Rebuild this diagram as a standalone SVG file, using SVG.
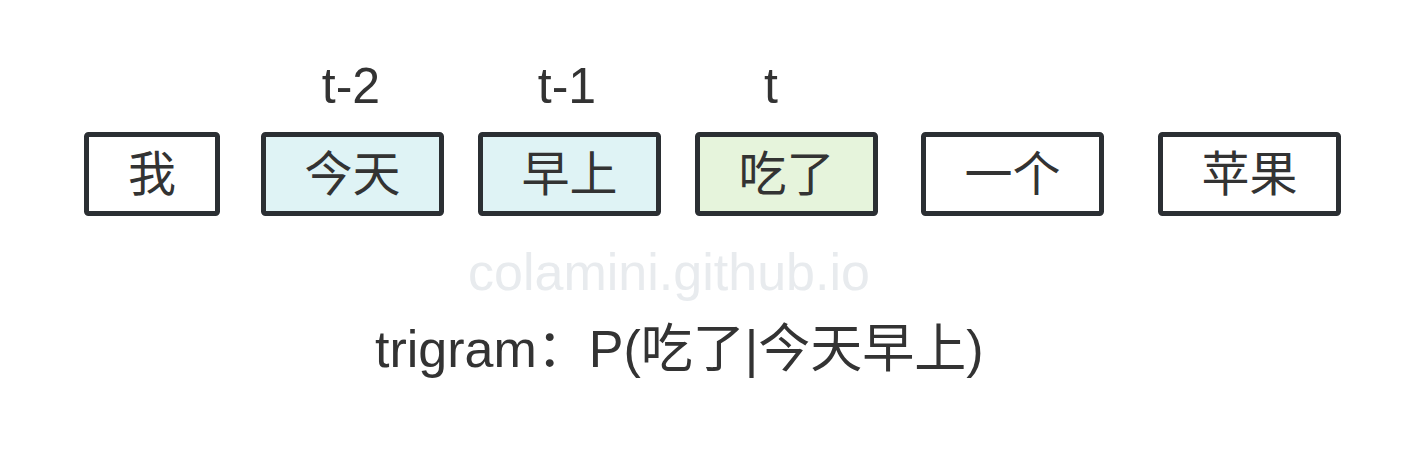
<svg xmlns="http://www.w3.org/2000/svg" width="1426" height="466" viewBox="0 0 1426 466">
  <style>
    .box { stroke: #2b2f33; stroke-width: 5; }
    .plain { fill: #ffffff; }
    .ctx { fill: #dff3f5; }
    .cur { fill: #e6f4dc; }
    text { font-family: "Liberation Sans", "Noto Sans CJK SC", sans-serif; fill: #333333; }
    .word { font-size: 48px; text-anchor: middle; dominant-baseline: central; }
    .lbl { font-size: 50px; text-anchor: middle; }
  </style>
  <rect width="1426" height="466" fill="#ffffff"/>
  <g id="labels">
    <text class="lbl" x="351" y="103">t-2</text>
    <text class="lbl" x="567" y="103">t-1</text>
    <text class="lbl" x="771" y="103">t</text>
  </g>
  <g id="node-wo">
    <rect class="box plain" x="86.5" y="134.5" width="131" height="79" rx="2"/>
    <text class="word" x="152" y="174">我</text>
  </g>
  <g id="node-jintian">
    <rect class="box ctx" x="263.5" y="134.5" width="178" height="79" rx="2"/>
    <text class="word" x="352.5" y="174">今天</text>
  </g>
  <g id="node-zaoshang">
    <rect class="box ctx" x="480.5" y="134.5" width="178" height="79" rx="2"/>
    <text class="word" x="569.5" y="174">早上</text>
  </g>
  <g id="node-chile">
    <rect class="box cur" x="697.5" y="134.5" width="178" height="79" rx="2"/>
    <text class="word" x="786.5" y="174">吃了</text>
  </g>
  <g id="node-yige">
    <rect class="box plain" x="923.5" y="134.5" width="178" height="79" rx="2"/>
    <text class="word" x="1012.5" y="174">一个</text>
  </g>
  <g id="node-pingguo">
    <rect class="box plain" x="1160.5" y="134.5" width="178" height="79" rx="2"/>
    <text class="word" x="1249.5" y="174">苹果</text>
  </g>
  <g id="connectors"></g>
  <text x="669" y="290" font-size="52" text-anchor="middle" style="fill:#e8ebee">colamini.github.io</text>
  <text x="375" y="367" font-size="52">trigram：P(吃了|今天早上)</text>
</svg>
